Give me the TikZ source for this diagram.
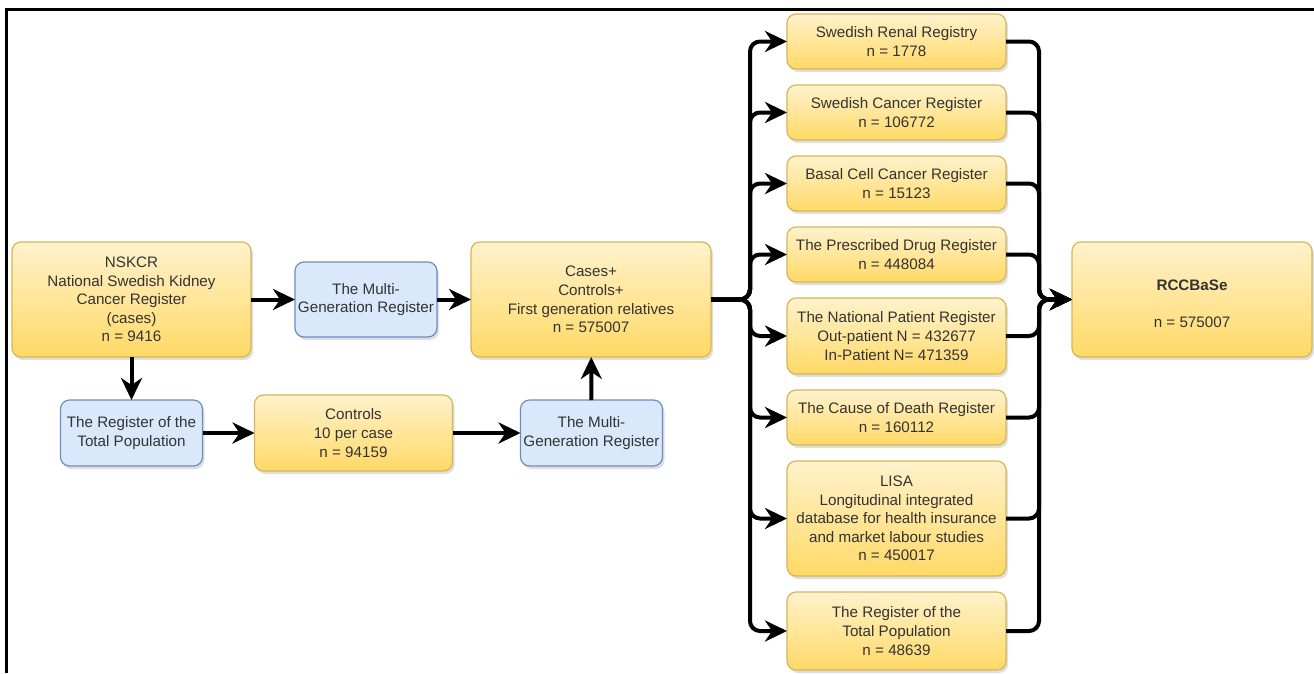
\documentclass[tikz,border=0pt]{standalone}
\usepackage{fontspec}
\setmainfont{Liberation Sans}
\usepackage{tikz}
\usetikzlibrary{arrows.meta, positioning, shadows}
\definecolor{ytop}{HTML}{FFF2CC}
\definecolor{ybot}{HTML}{FFD966}
\definecolor{yline}{HTML}{D6B656}
\definecolor{bfill}{HTML}{DAE8FC}
\definecolor{bline}{HTML}{6C8EBF}
\definecolor{txt}{HTML}{333333}
\begin{document}
\begin{tikzpicture}[x=1pt, y=-1pt, font=\fontsize{15.2}{18.6}\selectfont,
    ybox/.style={rectangle, rounded corners=9pt, draw=yline, line width=1.2pt, top color=ytop, bottom color=ybot, text=txt, align=center, inner sep=2pt, outer sep=0pt, drop shadow={shadow xshift=2pt, shadow yshift=-3pt, opacity=0.25}},
    bbox/.style={rectangle, rounded corners=9pt, draw=bline, line width=1.2pt, fill=bfill, text=txt, align=center, inner sep=2pt, outer sep=0pt, minimum width=142pt, minimum height=66pt, drop shadow={shadow xshift=2pt, shadow yshift=-3pt, opacity=0.25}},
    regbox/.style={ybox, minimum width=219pt, minimum height=55pt},
    flow/.style={line width=4pt, rounded corners=10pt, -{Stealth[length=22pt, width=21pt, inset=7pt]}}]
    \useasboundingbox (0,0) rectangle (1314,673);%page size
    \draw[line width=3pt] (6.5,673) -- (6.5,9.5) -- (1314,9.5);%frame
    \node (nskcr) [ybox, minimum width=239pt, minimum height=115pt] at (131.5,299.5) {NSKCR\\National Swedish Kidney\\Cancer Register\\(cases)\\n = 9416};%source register
    \node (mgrA) [bbox, minimum height=75pt, right=44pt of nskcr] {The Multi-\\Generation Register};%relatives of cases
    \node (cases) [ybox, minimum width=240pt, minimum height=115pt, right=34pt of mgrA] {Cases+\\Controls+\\First generation relatives\\n = 575007};%study population
    \node (rtpA) [bbox, below=43pt of nskcr] {The Register of the\\Total Population};%control source
    \node (ctrl) [ybox, minimum width=198pt, minimum height=76pt, right=52pt of rtpA] {Controls\\10 per case\\n = 94159};%controls
    \node (mgrB) [bbox, right=68pt of ctrl] {The Multi-\\Generation Register};%relatives of controls
    \node (npr) [regbox, minimum height=76pt, right=76pt of cases, yshift=-36.5pt] {The National Patient Register\\Out-patient N = 432677\\In-Patient N= 471359};%linked registers
    \node (presc) [regbox, above=16pt of npr] {The Prescribed Drug Register\\n = 448084};
    \node (basal) [regbox, above=16pt of presc] {Basal Cell Cancer Register\\n = 15123};
    \node (cancer) [regbox, above=16pt of basal] {Swedish Cancer Register\\n = 106772};
    \node (renal) [regbox, above=16pt of cancer] {Swedish Renal Registry\\n = 1778};
    \node (cod) [regbox, below=16pt of npr] {The Cause of Death Register\\n = 160112};
    \node (lisa) [regbox, minimum height=115pt, below=16pt of cod] {LISA\\Longitudinal integrated\\database for health insurance\\and market labour studies\\n = 450017};
    \node (rtpB) [regbox, minimum height=78pt, below=16pt of lisa] {The Register of the\\Total Population\\n = 48639};
    \node (rcc) [ybox, minimum width=240pt, minimum height=115pt, right=66pt of npr, yshift=36.5pt] {\mbox{}\\\textbf{RCCBaSe}\\ \\n = 575007};%final database
    \coordinate[right=39pt of cases.east] (split);%left bus
    \coordinate[left=33pt of rcc.west] (join);%right bus
    \draw[flow] (nskcr) -- (mgrA);
    \draw[flow] (mgrA) -- (cases);
    \draw[flow] (nskcr) -- (rtpA);
    \draw[flow] (rtpA) -- (ctrl);
    \draw[flow] (ctrl) -- (mgrB);
    \draw[flow] (mgrB) -- (cases);
    \draw[flow] (cases.east) -- (split) |- (renal.west);
    \draw[flow] (cases.east) -- (split) |- (cancer.west);
    \draw[flow] (cases.east) -- (split) |- (basal.west);
    \draw[flow] (cases.east) -- (split) |- (presc.west);
    \draw[flow] (cases.east) -- (split) |- (npr.west);
    \draw[flow] (cases.east) -- (split) |- (cod.west);
    \draw[flow] (cases.east) -- (split) |- (lisa.west);
    \draw[flow] (cases.east) -- (split) |- (rtpB.west);
    \draw[flow] (renal.east) -| (join) -- (rcc.west);
    \draw[flow] (cancer.east) -| (join) -- (rcc.west);
    \draw[flow] (basal.east) -| (join) -- (rcc.west);
    \draw[flow] (presc.east) -| (join) -- (rcc.west);
    \draw[flow] (npr.east) -| (join) -- (rcc.west);
    \draw[flow] (cod.east) -| (join) -- (rcc.west);
    \draw[flow] (lisa.east) -| (join) -- (rcc.west);
    \draw[flow] (rtpB.east) -| (join) -- (rcc.west);
\end{tikzpicture}
\end{document}
